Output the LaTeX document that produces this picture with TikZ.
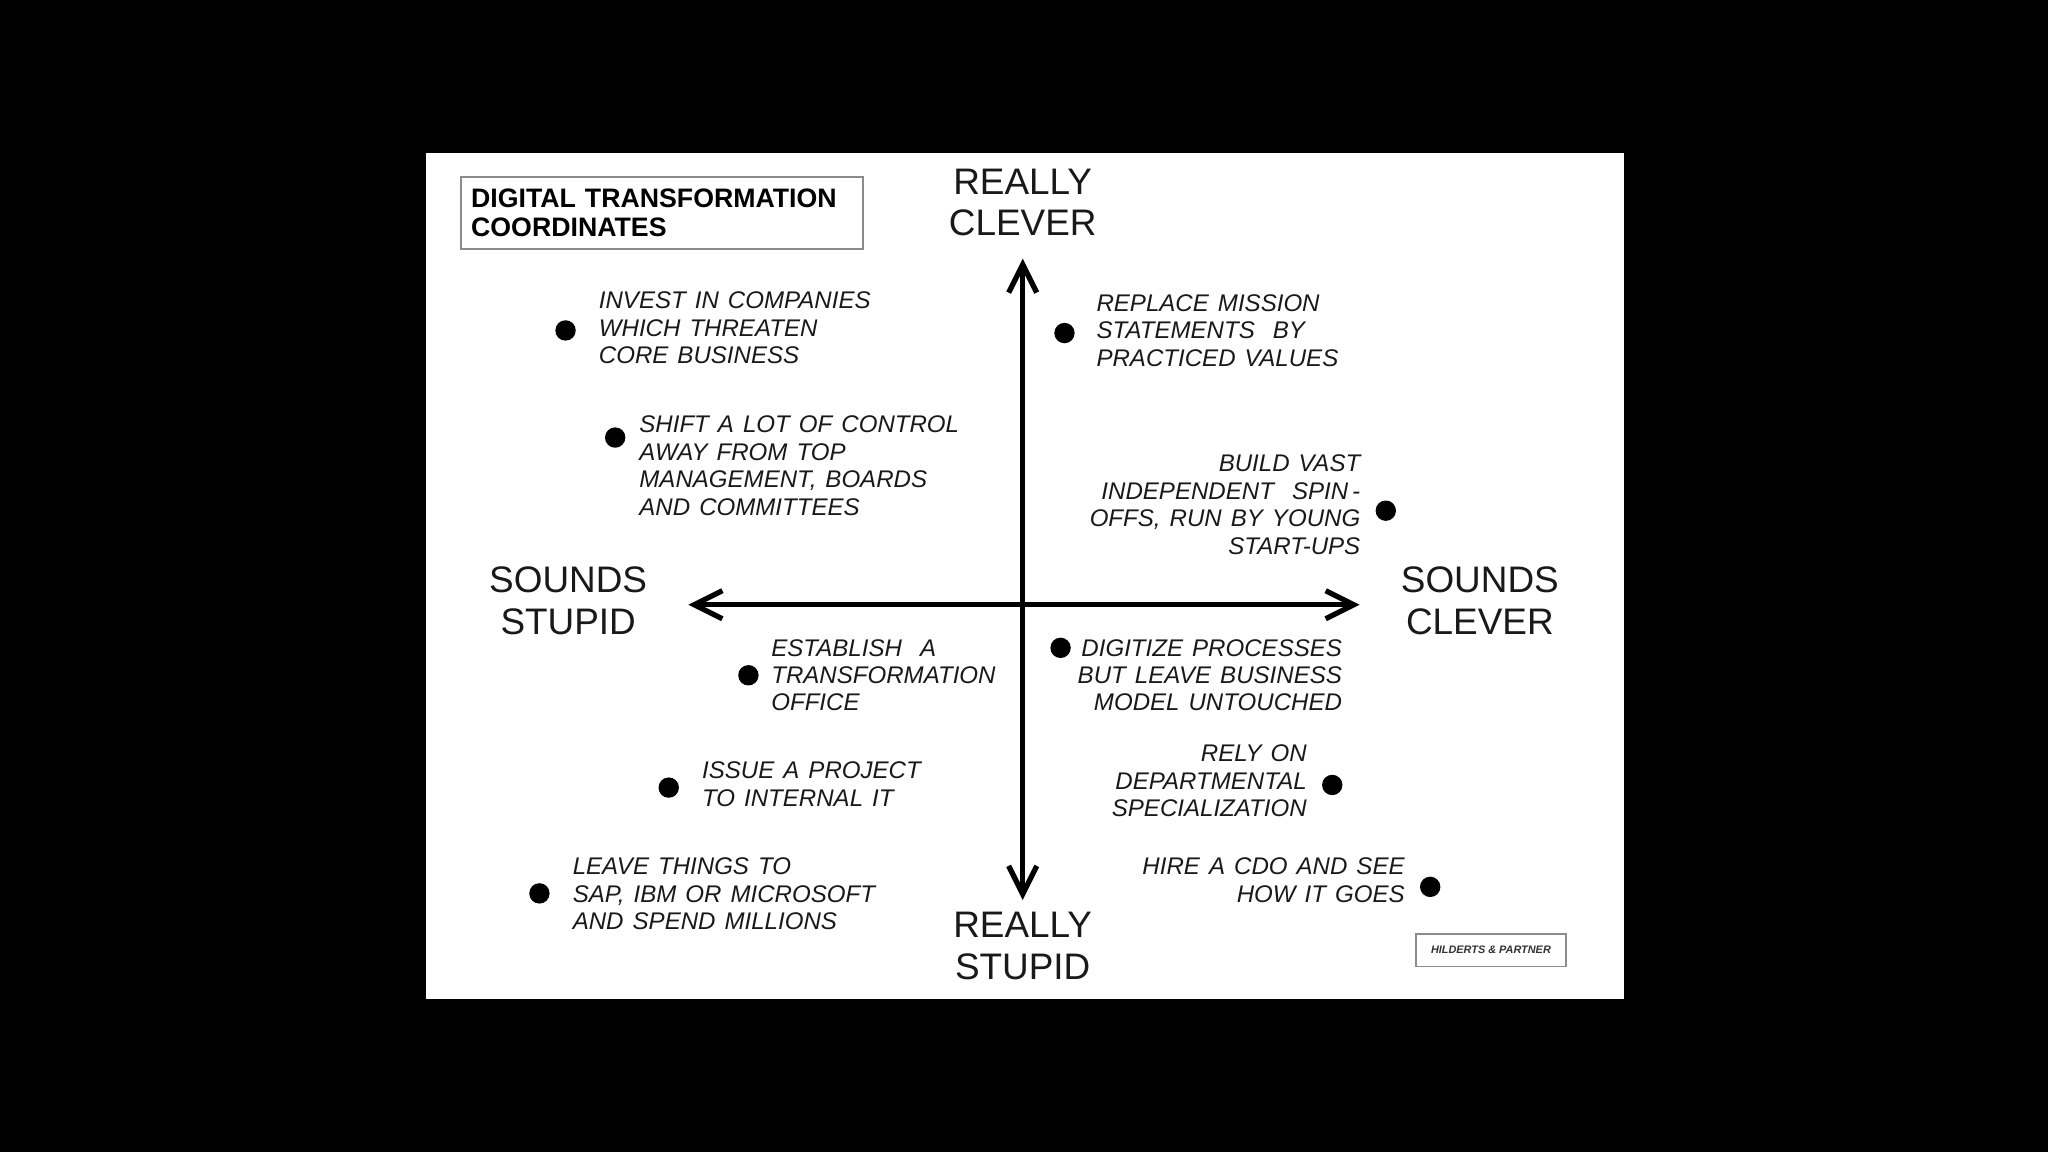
\documentclass[tikz,border=0pt]{standalone}
\usepackage{fontspec}
\setmainfont{Liberation Sans}
\newfontfamily\itemfont[WordSpace=1.35]{Liberation Sans}
\usetikzlibrary{arrows.meta}
\begin{document}
\begin{tikzpicture}[x=0.013061cm,y=-0.013061cm,
  item/.style={font=\itemfont\itshape\fontsize{6.85}{7.8}\selectfont, inner sep=0pt, text=black!90},
  iteml/.style={item, anchor=west, align=left},
  itemr/.style={item, anchor=east, align=right},
  dot/.style={circle, fill=black, minimum size=5.8pt, inner sep=0pt},
  axlabel/.style={font=\fontsize{10.5}{11.9}\selectfont, align=center, inner sep=0pt, text=black!90},
  axisline/.style={line width=1.5pt, line cap=round,
    {Straight Barb[length=8pt,width=8pt,line width=1.5pt]}-{Straight Barb[length=8pt,width=8pt,line width=1.5pt]}},
]
% background and panel
\fill[black] (0,0) rectangle (1568,882);
\useasboundingbox (0,0) rectangle (1568,882);
\fill[white] (326,117) rectangle (1243,765);

% title box
\node[draw=black!45, line width=0.5pt, anchor=north west, inner xsep=3pt, inner ysep=0pt,
      minimum height=20.4pt, text width=108.5pt, align=left,
      font=\bfseries\fontsize{7.6}{8.2}\selectfont] (title) at (352,135)
  {DIGITAL TRANSFORMATION\\COORDINATES};

% axes
\coordinate (top) at (783,198);
\coordinate (bot) at (783,689);
\coordinate (lft) at (527,463);
\coordinate (rgt) at (1041,463);
\draw[axisline] (bot) -- (top);
\draw[axisline] (lft) -- (rgt);

% axis labels
\node[axlabel] (rc) at (783,155) {REALLY\\CLEVER};
\node[axlabel] (rs) at (783,724.5) {REALLY\\STUPID};
\node[axlabel] (ss) at (435,460) {SOUNDS\\STUPID};
\node[axlabel] (sc) at (1133,460) {SOUNDS\\CLEVER};

% items
\node[dot] (d1) at (433,253) {};
\node[iteml] (t1) at (458,251) {INVEST IN COMPANIES\\WHICH THREATEN\\CORE BUSINESS};

\node[dot] (d2) at (471,335) {};
\node[iteml] (t2) at (489,356.5) {SHIFT A LOT OF CONTROL\\AWAY FROM TOP\\MANAGEMENT, BOARDS\\AND COMMITTEES};

\node[dot] (d3) at (815,255) {};
\node[iteml] (t3) at (839,253) {REPLACE MISSION\\STATEMENTS\ \ BY\\PRACTICED VALUES};

\node[dot] (d4) at (1061,391) {};
\node[itemr] (t4) at (1042,386.5) {BUILD VAST\\INDEPENDENT\ \ SPIN\,-\\OFFS, RUN BY YOUNG\\START-UPS};

\node[dot] (d5) at (573,517) {};
\node[iteml] (t5) at (590,517) {ESTABLISH\ \ A\\TRANSFORMATION\\OFFICE};

\node[dot] (d6) at (812,496) {};
\node[itemr] (t6) at (1028,517) {DIGITIZE PROCESSES\\BUT LEAVE BUSINESS\\MODEL UNTOUCHED};

\node[dot] (d7) at (1020,601) {};
\node[itemr] (t7) at (1001,598) {RELY ON\\DEPARTMENTAL\\SPECIALIZATION};

\node[dot] (d8) at (512,603) {};
\node[iteml] (t8) at (537,600.5) {ISSUE A PROJECT\\TO INTERNAL IT};

\node[dot] (d9) at (1095,679) {};
\node[itemr] (t9) at (1076,674) {HIRE A CDO AND SEE\\HOW IT GOES};

\node[dot] (d10) at (413,684) {};
\node[iteml] (t10) at (438,684.5) {LEAVE THINGS TO\\SAP, IBM OR MICROSOFT\\AND SPEND MILLIONS};

% credit box
\node[draw=black!45, line width=0.5pt, minimum width=42.7pt, minimum height=9.3pt, inner sep=0pt,
      font=\bfseries\itshape\fontsize{3.1}{3.5}\selectfont, text=black!80] (credit) at (1141.5,727.5)
  {HILDERTS \& PARTNER};
\end{tikzpicture}
\end{document}
